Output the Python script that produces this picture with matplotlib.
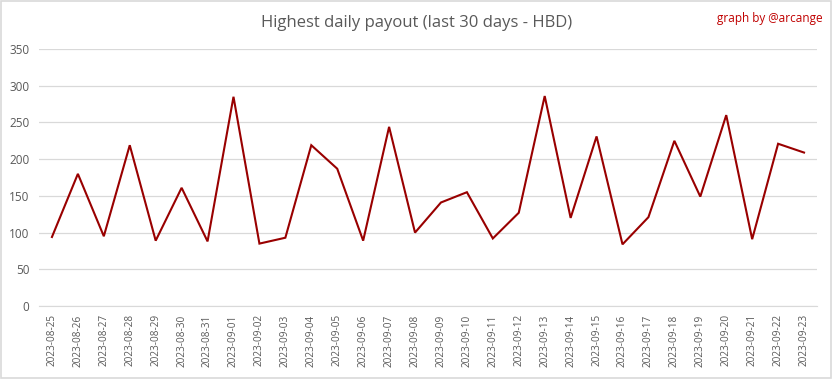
import matplotlib.pyplot as plt
from matplotlib.patches import Rectangle

# dates and highest daily payout (HBD)
dates = ["2023-08-25", "2023-08-26", "2023-08-27", "2023-08-28", "2023-08-29",
         "2023-08-30", "2023-08-31", "2023-09-01", "2023-09-02", "2023-09-03",
         "2023-09-04", "2023-09-05", "2023-09-06", "2023-09-07", "2023-09-08",
         "2023-09-09", "2023-09-10", "2023-09-11", "2023-09-12", "2023-09-13",
         "2023-09-14", "2023-09-15", "2023-09-16", "2023-09-17", "2023-09-18",
         "2023-09-19", "2023-09-20", "2023-09-21", "2023-09-22", "2023-09-23"]
payout = [94, 180, 95, 219, 89, 161, 88, 285, 85, 93,
          219, 187, 89, 244, 100, 141, 155, 92, 127, 286,
          120, 231, 84, 121, 225, 149, 260, 91, 221, 209]
y_ticks = [0, 50, 100, 150, 200, 250, 300, 350]

txt = "#595959"
grid = "#d9d9d9"

plt.rcParams['font.family'] = ['Open Sans', 'DejaVu Sans']

fig = plt.figure(figsize=(8.33, 3.79), dpi=100)
ax = fig.add_axes([0.0468, 0.1926, 0.934, 0.678])

x = list(range(len(dates)))
ax.plot(x, payout, color="#990000", linewidth=1.5, solid_joinstyle="miter")

ax.set_xlim(-0.5, len(dates) - 0.5)
ax.set_ylim(0, 350)
ax.set_yticks(y_ticks)
ax.set_xticks(x)
ax.set_xticklabels(dates, rotation=90, fontsize=7.2, color=txt)
ax.tick_params(axis="y", labelsize=8.5, labelcolor=txt, length=0, pad=7)
ax.tick_params(axis="x", length=0, pad=6)
ax.grid(axis="y", color=grid, linewidth=0.9)
ax.set_axisbelow(True)
for s in ["top", "right", "left"]:
    ax.spines[s].set_visible(False)
ax.spines["bottom"].set_color(grid)

fig.text(0.5, 0.94, "Highest daily payout (last 30 days - HBD)", ha="center",
         va="center", fontsize=12, color=txt)
fig.text(0.987, 0.952, "graph by @arcange", ha="right", va="center",
         fontsize=8.5, color="#c00000")

# light border around the whole picture
fig.patches.append(Rectangle((0.001, 0.002), 0.997, 0.995, transform=fig.transFigure,
                             fill=False, edgecolor=grid, linewidth=1.2))

fig.savefig("out.png", dpi=100)
